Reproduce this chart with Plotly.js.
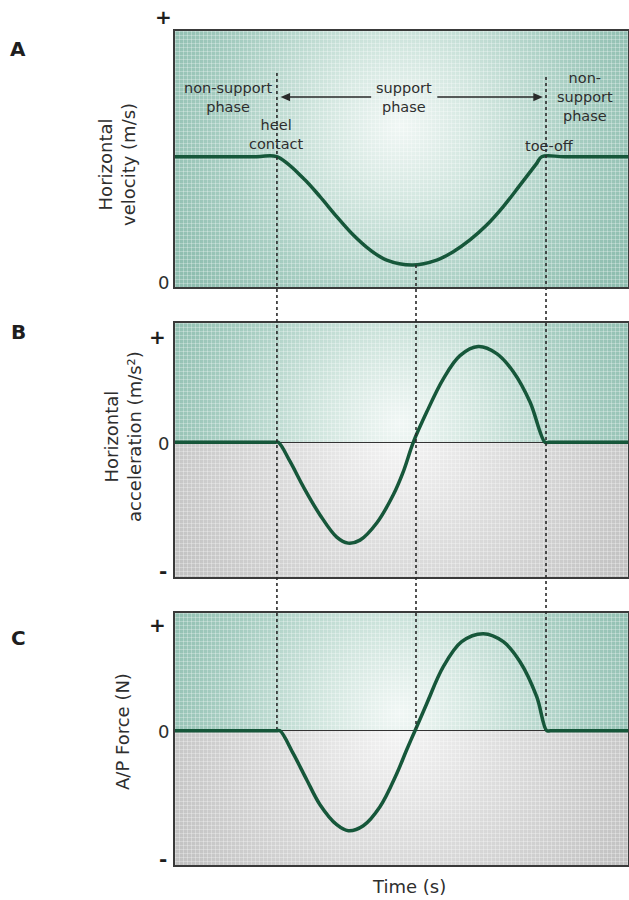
<!DOCTYPE html>
<html>
<head>
<meta charset="utf-8">
<script src="https://cdn.plot.ly/plotly-3.0.1.min.js"></script>
<style>html,body{margin:0;padding:0;background:#fff;}#chart{width:629px;height:900px;}</style>
</head>
<body>
<div id="chart"></div>
<script>
// ---- Data (time in % of the shown window) ----
const timeVelocity = [0, 18, 22.45, 28.32, 32.01, 35.70, 39.36, 43.05, 46.73, 52.4, 57.77, 61.43, 65.12, 68.81, 72.47, 76.16, 79.85, 80.95, 86, 100];
const velocity     = [5.09, 5.09, 5.09, 4.25, 3.53, 2.75, 2.03, 1.45, 1.05, 0.86, 1.05, 1.38, 1.84, 2.42, 3.14, 3.98, 4.83, 5.09, 5.09, 5.09];

const timeAccel = [0, 22.0, 22.80, 25.39, 28.32, 32.01, 35.70, 38.2, 40.84, 44.53, 48.19, 50.40, 52.60, 55.56, 59.23, 62.91, 66.95, 71.02, 74.68, 78.37, 81.68, 82.5, 100];
const accel     = [0, 0, 0, -0.19, -0.44, -0.72, -0.94, -1.0, -0.97, -0.80, -0.52, -0.29, 0, 0.30, 0.63, 0.86, 0.95, 0.88, 0.70, 0.40, 0, 0, 0];

const timeForce = [0, 22.4, 23.18, 26.11, 29.07, 32.01, 35.70, 38.26, 41.57, 45.25, 48.94, 51.15, 52.98, 55.56, 59.23, 63.29, 68.06, 72.47, 76.16, 79.85, 82.05, 82.9, 100];
const force     = [0, 0, 0, -0.23, -0.49, -0.74, -0.94, -1.00, -0.95, -0.76, -0.43, -0.19, 0, 0.27, 0.64, 0.89, 0.97, 0.89, 0.69, 0.34, 0, 0, 0];

const eventTimes  = [22.5, 53.2, 81.9];          // heel contact, velocity minimum, toe-off
const panelLabels = ["A", "B", "C"];
const yTitles = ["Horizontal<br>velocity (m/s)", "Horizontal<br>acceleration (m/s²)", "A/P Force (N)"];
const xTitle = "Time (s)";

// ---- Styling ----
const FONT = "DejaVu Sans";
const TXT = "#2e2e2e";
const CURVE = "#16573a";

function panelSVG(w, h, zeroY, cx, cy, r) {
  const s = `<svg xmlns="http://www.w3.org/2000/svg" width="${w}" height="${h}" viewBox="0 0 ${w} ${h}" preserveAspectRatio="none">
<defs>
<radialGradient id="t" gradientUnits="userSpaceOnUse" cx="${cx}" cy="${cy}" r="${r}">
<stop offset="0" stop-color="#f1f7f5"/><stop offset="0.3" stop-color="#d3e7e0"/><stop offset="0.7" stop-color="#a6cdc1"/><stop offset="1" stop-color="#8fbeb0"/>
</radialGradient>
<radialGradient id="g" gradientUnits="userSpaceOnUse" cx="${cx}" cy="${zeroY}" r="${r}">
<stop offset="0" stop-color="#f4f4f4"/><stop offset="0.4" stop-color="#dedede"/><stop offset="1" stop-color="#c2c2c2"/>
</radialGradient>
<pattern id="p" width="4" height="4" patternUnits="userSpaceOnUse"><path d="M0 0.5H4M0.5 0V4" stroke="#ffffff" stroke-opacity="0.28" stroke-width="1" fill="none"/></pattern>
</defs>
<rect x="0" y="0" width="${w}" height="${zeroY}" fill="url(#t)"/>
<rect x="0" y="${zeroY}" width="${w}" height="${h - zeroY}" fill="url(#g)"/>
<rect x="0" y="0" width="${w}" height="${h}" fill="url(#p)"/>
</svg>`;
  return "data:image/svg+xml;charset=utf-8," + encodeURIComponent(s);
}

const rangeA = [0, 10], rangeB = [-1.336, 1.184], rangeC = [-1.343, 1.177];
const xRange = [0, 100];

const lineStyle = {color: CURVE, width: 3.5, shape: "spline", smoothing: 1.0};
const traces = [
  {x: timeVelocity, y: velocity, xaxis: "x", yaxis: "y", mode: "lines", line: lineStyle, hoverinfo: "skip", showlegend: false},
  {x: timeAccel, y: accel, xaxis: "x2", yaxis: "y2", mode: "lines", line: lineStyle, hoverinfo: "skip", showlegend: false},
  {x: timeForce, y: force, xaxis: "x3", yaxis: "y3", mode: "lines", line: lineStyle, hoverinfo: "skip", showlegend: false}
];

const xDom = [175 / 629, 628 / 629];
const axX = (anchor) => ({domain: xDom, range: xRange, anchor: anchor, showticklabels: false, ticks: "", showgrid: false, zeroline: false,
  showline: true, mirror: true, linecolor: "#3a3a3a", linewidth: 2, fixedrange: true});
const axY = (dom, rng, anchor, zl) => ({domain: dom, range: rng, anchor: anchor, showticklabels: false, ticks: "", showgrid: false,
  zeroline: zl, zerolinecolor: "#333333", zerolinewidth: 1.5, showline: true, mirror: true, linecolor: "#3a3a3a", linewidth: 2, fixedrange: true});

const px2x = (px) => px / 629, py2y = (py) => 1 - py / 900;

const annotations = [];
function txt(text, x, y, opts) {
  annotations.push(Object.assign({text: text, x: x, y: y, xref: "paper", yref: "paper", showarrow: false,
    xanchor: "center", yanchor: "middle", font: {family: FONT, size: 15, color: TXT}}, opts || {}));
}
// panel letters
[49, 332, 638].forEach((p, i) => txt("<b>" + panelLabels[i] + "</b>", px2x(18), py2y(p), {font: {family: FONT, size: 20, color: "#1e1e1e"}}));
// tick symbols
const tk = {font: {family: FONT, size: 18, color: TXT}};
const tkb = {font: {family: FONT, size: 20, color: "#1e1e1e"}};
txt("<b>+</b>", px2x(163), py2y(17), tkb);
txt("0", px2x(163), py2y(282), tk);
txt("<b>+</b>", px2x(158), py2y(337), tkb);
txt("0", px2x(163), py2y(443), tk);
txt("<b>-</b>", px2x(163), py2y(571), tkb);
txt("<b>+</b>", px2x(158), py2y(625), tkb);
txt("0", px2x(163), py2y(731), tk);
txt("<b>-</b>", px2x(163), py2y(859), tkb);
// axis titles
const tt = {textangle: -90, font: {family: FONT, size: 18, color: TXT}};
txt(yTitles[0], px2x(117), py2y(165), tt);
txt(yTitles[1], px2x(123), py2y(437), tt);
txt(yTitles[2], px2x(122), py2y(732), tt);
txt(xTitle, px2x(409), py2y(886), {font: {family: FONT, size: 18, color: TXT}});
// panel A labels (data coordinates of panel A)
const aT = (text, x, y) => annotations.push({text: text, x: x, y: y, xref: "x", yref: "y", showarrow: false, xanchor: "center", yanchor: "middle",
  font: {family: FONT, size: 14.5, color: TXT}});
aT("non-support<br>phase", 11.7, 7.42);
aT("heel<br>contact", eventTimes[0], 5.94);
aT("support<br>phase", 50.5, 7.42);
aT("non-<br>support<br>phase", 90.5, 7.42);
aT("toe-off", 82.6, 5.52);

// dotted event lines (spanning the stacked panels) and the support-phase arrows
const dot = {color: "#2a2a2a", width: 1.6, dash: "3px,3px"};
const spans = [[py2y(73), py2y(729)], [py2y(265), py2y(728)], [py2y(77), py2y(716)]];
const shapes = eventTimes.map((t, i) => ({type: "line", xref: "x", yref: "paper", x0: t, x1: t, y0: spans[i][0], y1: spans[i][1], line: dot, layer: "above"}));
const arrowY = 7.42, arrowLine = {color: "#2a2a2a", width: 1.4};
shapes.push({type: "line", xref: "x", yref: "y", x0: 24.5, x1: 43.3, y0: arrowY, y1: arrowY, line: arrowLine});
shapes.push({type: "line", xref: "x", yref: "y", x0: 57.9, x1: 80.0, y0: arrowY, y1: arrowY, line: arrowLine});
shapes.push({type: "path", xref: "x", yref: "y", path: `M 23.3 ${arrowY} L 25.4 ${arrowY + 0.16} L 25.4 ${arrowY - 0.16} Z`, fillcolor: "#2a2a2a", line: {width: 0}});
shapes.push({type: "path", xref: "x", yref: "y", path: `M 81.2 ${arrowY} L 79.1 ${arrowY + 0.16} L 79.1 ${arrowY - 0.16} Z`, fillcolor: "#2a2a2a", line: {width: 0}});

const images = [
  {source: panelSVG(453, 256, 256, 225, 95, 255), xref: "x", yref: "y", x: 0, y: rangeA[1], sizex: 100, sizey: rangeA[1] - rangeA[0], sizing: "stretch", layer: "below", xanchor: "left", yanchor: "top"},
  {source: panelSVG(453, 254, 119.3, 225, 100, 255), xref: "x2", yref: "y2", x: 0, y: rangeB[1], sizex: 100, sizey: rangeB[1] - rangeB[0], sizing: "stretch", layer: "below", xanchor: "left", yanchor: "top"},
  {source: panelSVG(453, 252, 117.7, 225, 100, 255), xref: "x3", yref: "y3", x: 0, y: rangeC[1], sizex: 100, sizey: rangeC[1] - rangeC[0], sizing: "stretch", layer: "below", xanchor: "left", yanchor: "top"}
];

const layout = {
  width: 629, height: 900,
  margin: {l: 0, r: 0, t: 0, b: 0},
  paper_bgcolor: "#ffffff", plot_bgcolor: "rgba(0,0,0,0)",
  font: {family: FONT, color: TXT},
  showlegend: false,
  xaxis: axX("y"), xaxis2: Object.assign(axX("y2"), {matches: "x"}), xaxis3: Object.assign(axX("y3"), {matches: "x"}),
  yaxis: axY([1 - 287 / 900, 1 - 31 / 900], rangeA, "x", false),
  yaxis2: axY([1 - 577 / 900, 1 - 323 / 900], rangeB, "x2", true),
  yaxis3: axY([1 - 865 / 900, 1 - 613 / 900], rangeC, "x3", true),
  annotations: annotations,
  shapes: shapes,
  images: images
};

Plotly.newPlot("chart", traces, layout, {displayModeBar: false, staticPlot: true});
</script>
</body>
</html>
